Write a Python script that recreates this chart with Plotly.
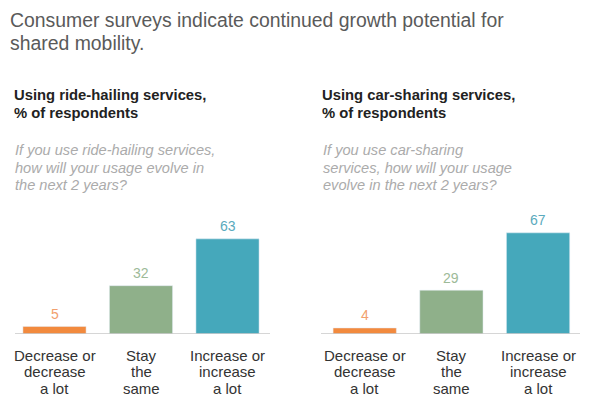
import plotly.graph_objects as go

# ---- data ----
categories = ["Decrease or decrease a lot", "Stay the same", "Increase or increase a lot"]
category_lines = [["Decrease or", "decrease", "a lot"], ["Stay", "the", "same"], ["Increase or", "increase", "a lot"]]
ride_hailing = [5, 32, 63]
car_sharing = [4, 29, 67]
title_lines = ["Consumer surveys indicate continued growth potential for", "shared mobility."]
left_heading = ["Using ride-hailing services,", "% of respondents"]
right_heading = ["Using car-sharing services,", "% of respondents"]
left_question = ["If you use ride-hailing services,", "how will your usage evolve in", "the next 2 years?"]
right_question = ["If you use car-sharing", "services, how will your usage", "evolve in the next 2 years?"]

bar_colors = ["#F28A3E", "#8FB08A", "#45A8BB"]
label_colors = ["#F2A06E", "#9DBA98", "#5AAABD"]

W, H = 616, 396
FONT = "Liberation Sans"


def py(p):
    return 1 - p / H


def px(p):
    return p / W


fig = go.Figure()
fig.add_trace(go.Bar(x=categories, y=ride_hailing, marker_color=bar_colors, width=0.73,
                     xaxis="x", yaxis="y", showlegend=False, hoverinfo="skip"))
fig.add_trace(go.Bar(x=categories, y=car_sharing, marker_color=bar_colors, width=0.73,
                     xaxis="x2", yaxis="y2", showlegend=False, hoverinfo="skip"))

ann = []
# title
for i, t in enumerate(title_lines):
    ann.append(dict(text=t, x=px(8), y=py(20 + 23 * i), xref="paper", yref="paper",
                    xanchor="left", yanchor="middle", showarrow=False,
                    font=dict(family=FONT, size=19.4, color="#5a5a5a")))
# headings and questions
for x0, head, ques in [(12, left_heading, left_question), (320, right_heading, right_question)]:
    for i, t in enumerate(head):
        ann.append(dict(text="<b>%s</b>" % t, x=px(x0), y=py(95 + 18 * i), xref="paper", yref="paper",
                        xanchor="left", yanchor="middle", showarrow=False,
                        font=dict(family=FONT, size=14.8, color="#222222")))
    for i, t in enumerate(ques):
        ann.append(dict(text="<i>%s</i>" % t, x=px(x0 + 1), y=py(150 + 17.5 * i), xref="paper", yref="paper",
                        xanchor="left", yanchor="middle", showarrow=False,
                        font=dict(family=FONT, size=14.6, color="#ababab")))
# value labels and category labels
for xr, yr, vals in [("x", "y", ride_hailing), ("x2", "y2", car_sharing)]:
    for c, v, col in zip(categories, vals, label_colors):
        ann.append(dict(text=str(v), x=c, y=v, xref=xr, yref=yr, xanchor="center", yanchor="middle",
                        yshift=12.5, showarrow=False, font=dict(family=FONT, size=14, color=col)))
    for c, lines in zip(categories, category_lines):
        for i, t in enumerate(lines):
            ann.append(dict(text=t, x=c, y=py(355 + 16.5 * i), xref=xr, yref="paper",
                            xanchor="center", yanchor="middle", showarrow=False,
                            font=dict(family=FONT, size=15, color="#333333")))

shapes = [
    dict(type="line", xref="paper", yref="y", x0=px(15), x1=px(270), y0=0, y1=0,
         line=dict(color="#c8c8c8", width=1.5)),
    dict(type="line", xref="paper", yref="y2", x0=px(321), x1=px(580), y0=0, y1=0,
         line=dict(color="#c8c8c8", width=1.5)),
]

ydom = [py(334), py(334 - 70 * 1.51)]
axis_common = dict(showgrid=False, zeroline=False, showticklabels=False, showline=False, ticks="")
fig.update_layout(
    width=W, height=H, margin=dict(l=0, r=0, t=0, b=0),
    paper_bgcolor="white", plot_bgcolor="white",
    xaxis=dict(domain=[px(11.25), px(270.75)], range=[-0.5, 2.5], anchor="y", **axis_common),
    yaxis=dict(domain=ydom, range=[0, 70], anchor="x", **axis_common),
    xaxis2=dict(domain=[px(321.4), px(581.4)], range=[-0.5, 2.5], anchor="y2", **axis_common),
    yaxis2=dict(domain=ydom, range=[0, 70], anchor="x2", **axis_common),
    annotations=ann, shapes=shapes, bargap=0,
)
# remove the default page margin so the 616x396 figure fills the window exactly
fig.write_html("out.html", config={"displayModeBar": False, "staticPlot": True},
               post_script="document.body.style.margin='0';document.body.style.overflow='hidden';")
